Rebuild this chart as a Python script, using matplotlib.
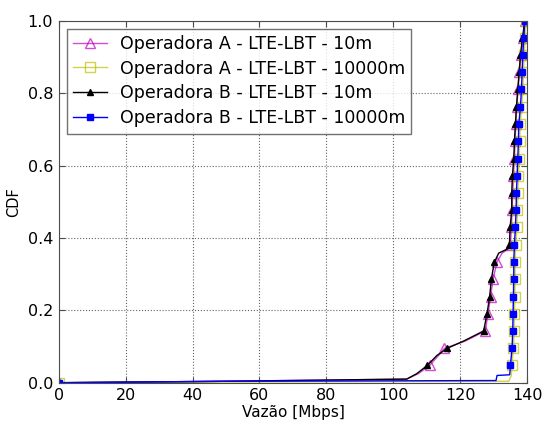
import matplotlib
matplotlib.use('Agg')
import matplotlib.pyplot as plt

# CDF levels (21 samples per series)
cdf_marks = [0.048, 0.095, 0.143, 0.190, 0.238, 0.286, 0.333, 0.381, 0.429, 0.476,
             0.524, 0.571, 0.619, 0.667, 0.714, 0.762, 0.810, 0.857, 0.905, 0.952, 1.0]

# Operadora B - 10m (black)
b10_x = [0, 50, 104, 107, 110.2, 113, 116.1, 121, 127.0, 128.0, 128.8, 129.3, 130.2,
         131.5, 134.0, 134.7, 134.9, 135.4, 135.4, 135.6, 136.0, 136.2, 136.5, 136.8,
         137.2, 137.6, 138.0, 138.6, 139.3]
b10_y = [0, 0.004, 0.010, 0.025, 0.048, 0.075, 0.095, 0.115, 0.143, 0.190, 0.238, 0.286,
         0.333, 0.358, 0.369, 0.381, 0.429, 0.476, 0.524, 0.571, 0.619, 0.667, 0.714,
         0.762, 0.810, 0.857, 0.905, 0.952, 1.0]
b10_marks = [0, 4, 6, 8, 9, 10, 11, 12] + list(range(15, 29))

# Operadora A - 10m (magenta)
a10_x = [0, 50, 104, 107.5, 110.9, 113.5, 115.3, 121.5, 127.5, 128.3, 129.1, 129.8, 131.0,
         132.5, 134.3, 135.0, 135.3, 135.5, 135.7, 135.9, 136.2, 136.4, 136.6, 136.9,
         137.3, 137.7, 138.2, 138.8, 139.4]
a10_y = b10_y
a10_marks = b10_marks

# Operadora B - 10000m (blue)
b10k_x = [0, 50, 130.7, 131.0, 134.8] + [135.0, 135.5, 135.7, 135.8, 135.9, 136.0, 136.0,
          136.2, 136.5, 136.7, 136.8, 137.0, 137.2, 137.4, 137.5, 138.0, 138.3, 138.5,
          138.7, 139.0, 139.3]
b10k_y = [0, 0.004, 0.006, 0.020, 0.022] + cdf_marks
b10k_marks = [0] + list(range(5, 26))

# Operadora A - 10000m (yellow)
a10k_x = [0, 50, 134.5, 135.3] + [135.4, 135.9, 136.1, 136.2, 136.3, 136.4, 136.4,
          136.6, 136.9, 137.1, 137.2, 137.4, 137.6, 137.8, 137.9, 138.4, 138.7, 138.9,
          139.1, 139.4, 139.7]
a10k_y = [0, 0.002, 0.004, 0.020] + cdf_marks
a10k_marks = [0] + list(range(4, 25))

plt.rcParams['font.family'] = 'DejaVu Sans'
fig = plt.figure(figsize=(5.44, 4.26), dpi=100)
ax = fig.add_axes([0.108, 0.1016, 0.861, 0.8498])

ax.plot(a10_x, a10_y, color='m', alpha=0.7, lw=1.0, marker='^', ms=7.5,
        mfc='none', mec='m', markevery=a10_marks, label='Operadora A - LTE-LBT - 10m')
ax.plot(a10k_x, a10k_y, color='y', alpha=0.7, lw=1.0, marker='s', ms=7,
        mfc='none', mec='y', markevery=a10k_marks, label='Operadora A - LTE-LBT - 10000m')
ax.plot(b10_x, b10_y, color='k', lw=1.0, marker='^', ms=5,
        markevery=b10_marks, label='Operadora B - LTE-LBT - 10m')
ax.plot(b10k_x, b10k_y, color='b', lw=1.0, marker='s', ms=4.5, mec='b',
        markevery=b10k_marks, label='Operadora B - LTE-LBT - 10000m')

ax.set_xlim(0, 140)
ax.set_ylim(0, 1.0)
ax.set_xticks(range(0, 141, 20))
ax.set_yticks([0.0, 0.2, 0.4, 0.6, 0.8, 1.0])
ax.set_yticklabels(['0.0', '0.2', '0.4', '0.6', '0.8', '1.0'])
ax.tick_params(direction='in', top=True, right=True, labelsize=11.5, length=4.5,
               pad=4, color='0.3')
ax.grid(True, color='0.4', linestyle=':', linewidth=0.8)
for sp in ax.spines.values():
    sp.set_color('0.3')

ax.set_xlabel('Vazão [Mbps]', fontsize=11, labelpad=1)
ax.set_ylabel('CDF', fontsize=10.5, labelpad=5)

leg = ax.legend(loc='upper left', fontsize=12.5, numpoints=1, fancybox=False,
                handlelength=2.0, borderaxespad=0.45, labelspacing=0.4,
                handletextpad=0.73, borderpad=0.35)
leg.get_frame().set_edgecolor('0.3')
leg.get_frame().set_linewidth(1.0)

fig.savefig('out.png', dpi=100)
